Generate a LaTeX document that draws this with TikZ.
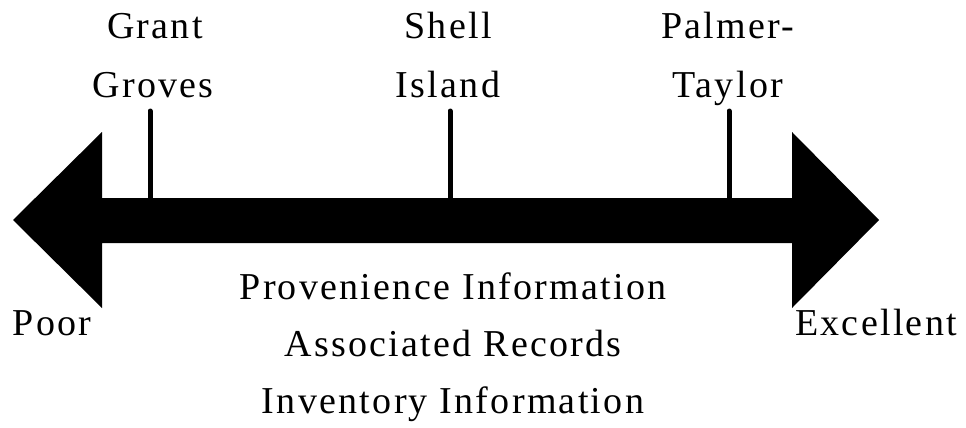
\documentclass[tikz,border=0pt]{standalone}
\usepackage{fontspec}
\setmainfont{Liberation Serif}[LetterSpace=6]
\begin{document}
\begin{tikzpicture}[x=1pt,y=-1pt,
  lbl/.style={anchor=base,inner sep=0pt,font=\fontsize{38}{44}\selectfont},
  tick/.style={line width=5pt,line cap=round}]
\useasboundingbox (0,0) rectangle (966,428);
% double arrow
\fill (13,220) -- (102,132) -- (102,198) -- (792,198) -- (792,132) -- (879,220)
  -- (792,308) -- (792,243) -- (102,243) -- (102,308) -- cycle;
% ticks
\coordinate (gb) at (150,200); \coordinate (gt) at (150,111);
\coordinate (sb) at (450,200); \coordinate (st) at (450,111);
\coordinate (pb) at (729,200); \coordinate (pt) at (729,111);
\draw[tick] (gb) -- (gt);
\draw[tick] (sb) -- (st);
\draw[tick] (pb) -- (pt);
% labels
\node[lbl] (grant) at (155,38) {Grant};
\node[lbl] (groves) at (153,97) {Groves};
\node[lbl] (shell) at (448,38) {Shell};
\node[lbl] (island) at (448,97) {Island};
\node[lbl] (palmer) at (728,38) {Palmer-};
\node[lbl] (taylor) at (728,97) {Taylor};
\node[lbl] (poor) at (52,335) {Poor};
\node[lbl] (excellent) at (876,335) {Excellent};
\node[lbl] (prov) at (453,299) {Provenience Information};
\node[lbl] (assoc) at (453,356) {Associated Records};
\node[lbl] (inv) at (453,413) {Inventory Information};
\end{tikzpicture}
\end{document}
